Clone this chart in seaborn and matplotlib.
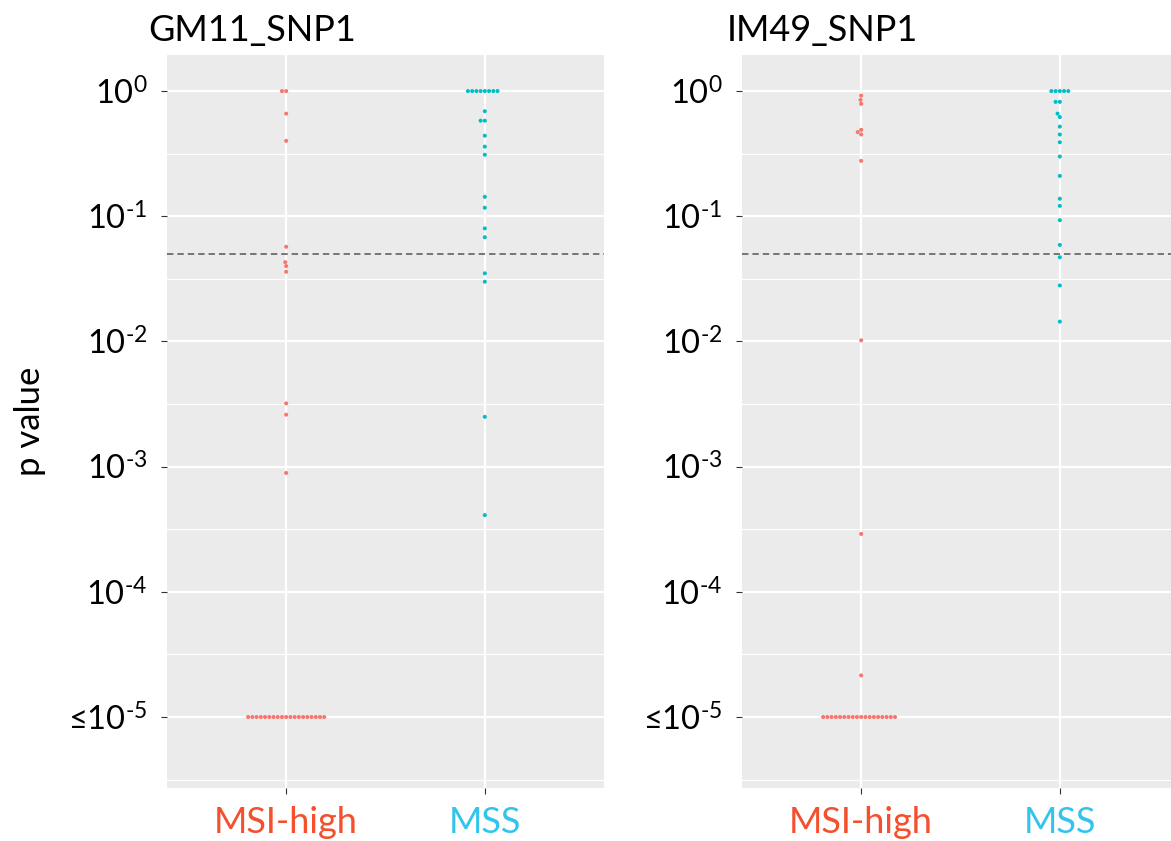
import numpy as np
import pandas as pd
import matplotlib
matplotlib.use("Agg")
import matplotlib.pyplot as plt
import seaborn as sns
from matplotlib.ticker import FixedLocator

# ---------------- data (p values) ----------------
groups = ["MSI-high", "MSS"]
titles = ["GM11_SNP1", "IM49_SNP1"]

gm11_msi = [1.0, 1.0, 0.66, 0.40, 0.057, 0.043, 0.040, 0.036,
            0.0032, 0.0026, 0.00089] + [1e-5] * 19
gm11_mss = [1.0] * 8 + [0.69, 0.58, 0.58, 0.44, 0.36, 0.31, 0.143, 0.117,
                        0.080, 0.068, 0.035, 0.030, 0.0025, 0.00041]
im49_msi = [0.92, 0.85, 0.79, 0.49, 0.47, 0.45, 0.277, 0.0102,
            0.00029, 2.15e-5] + [1e-5] * 18
im49_mss = [1.0] * 5 + [0.82, 0.82, 0.66, 0.62, 0.52, 0.45, 0.39, 0.30, 0.21,
                        0.138, 0.121, 0.093, 0.059, 0.047, 0.028, 0.0144]

threshold = 0.05
tick_exponents = [0, -1, -2, -3, -4, -5]
tick_labels = [r"$\mathregular{10^{0}}$", r"$\mathregular{10^{\text{-}1}}$",
               r"$\mathregular{10^{\text{-}2}}$", r"$\mathregular{10^{\text{-}3}}$",
               r"$\mathregular{10^{\text{-}4}}$", r"≤$\mathregular{10^{\text{-}5}}$"]

point_colors = ["#F8766D", "#00BFC4"]
label_colors = ["#F4502E", "#33C4EE"]

# ---------------- style ----------------
plt.rcParams["font.family"] = ["Lato", "DejaVu Sans"]
plt.rcParams["mathtext.fontset"] = "custom"
plt.rcParams["mathtext.rm"] = "Lato"
plt.rcParams["mathtext.it"] = "Lato:italic"
plt.rcParams["mathtext.bf"] = "Lato:bold"

W, H = 1171, 841
fig = plt.figure(figsize=(W / 100, H / 100), dpi=100)
fig.patch.set_facecolor("white")


def px_axes(l, t, r, b):
    return fig.add_axes([l / W, 1 - b / H, (r - l) / W, (b - t) / H])


ax1 = px_axes(167, 55, 604, 788)
ax2 = px_axes(742, 55, 1179, 788)

panels = [(ax1, gm11_msi, gm11_mss), (ax2, im49_msi, im49_mss)]

for ax, msi, mss in panels:
    df = pd.DataFrame({
        "group": [groups[0]] * len(msi) + [groups[1]] * len(mss),
        "p": msi + mss,
    })
    df["logp"] = np.log10(df["p"])
    ax.set_facecolor("#EBEBEB")
    ax.set_axisbelow(True)
    sns.swarmplot(data=df, x="group", y="logp", hue="group", order=groups,
                  hue_order=groups, palette=point_colors, size=2.9,
                  linewidth=0, legend=False, ax=ax, zorder=3)
    ax.set_xlim(-0.6, 1.6)
    ax.set_ylim(-5.567, 0.288)
    ax.set_yticks(tick_exponents)
    ax.set_yticklabels(tick_labels)
    ax.yaxis.set_minor_locator(FixedLocator([e - 0.5 for e in tick_exponents]))
    ax.grid(which="major", color="white", lw=1.6)
    ax.grid(which="minor", axis="y", color="white", lw=0.8)
    ax.axhline(np.log10(threshold), color="#555555", ls=(0, (4.2, 2.6)),
               lw=1.1, zorder=2)
    for s in ax.spines.values():
        s.set_visible(False)
    ax.tick_params(axis="both", which="major", length=4, width=0.8,
                   color="#333333", labelcolor="black")
    ax.tick_params(axis="y", pad=10, labelsize=23.5)
    ax.tick_params(axis="x", pad=9, labelsize=26)
    ax.tick_params(which="minor", length=0)
    ax.set_xlabel("")
    ax.set_ylabel("")
    for lab, c in zip(ax.get_xticklabels(), label_colors):
        lab.set_color(c)

ax1.set_ylabel("p value", fontsize=25, labelpad=16)

fig.text(148 / W, 1 - 31 / H, titles[0], fontsize=26, ha="left", va="center")
fig.text(727 / W, 1 - 31 / H, titles[1], fontsize=26, ha="left", va="center")

fig.savefig("out.png", dpi=100)
